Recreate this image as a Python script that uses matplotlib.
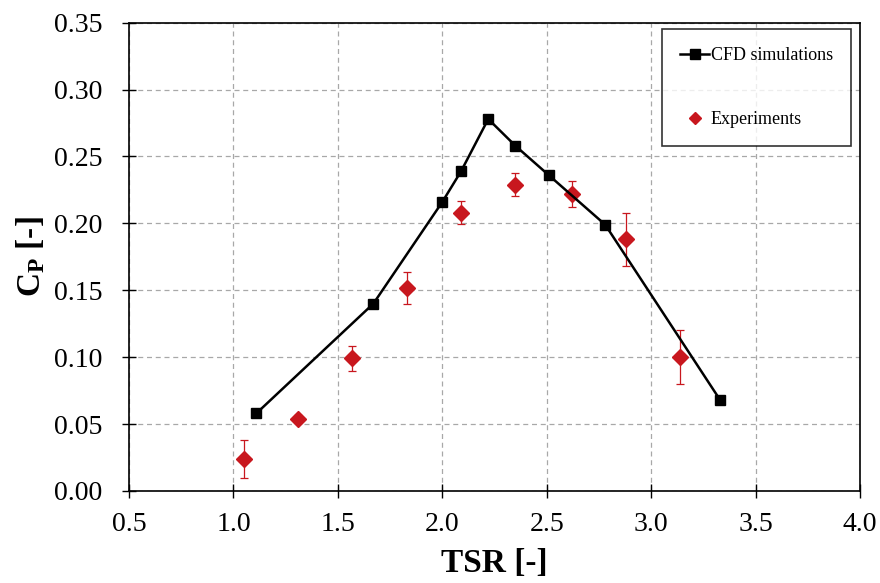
#!/usr/bin/env python3
"""Power coefficient vs tip speed ratio: CFD simulations against experiments."""
import matplotlib
matplotlib.use("Agg")
import matplotlib.pyplot as plt
from matplotlib.lines import Line2D

# CFD simulations
tsr_cfd = [1.11, 1.67, 2.00, 2.09, 2.22, 2.35, 2.51, 2.78, 3.33]
cp_cfd = [0.058, 0.140, 0.216, 0.239, 0.278, 0.258, 0.236, 0.199, 0.068]

# Experiments (mean +/- error)
tsr_exp = [1.05, 1.31, 1.57, 1.83, 2.09, 2.35, 2.62, 2.88, 3.14]
cp_exp = [0.024, 0.054, 0.099, 0.152, 0.208, 0.229, 0.222, 0.188, 0.100]
cp_err = [0.014, 0.003, 0.009, 0.012, 0.0085, 0.0087, 0.010, 0.020, 0.020]

xticks = [0.5, 1.0, 1.5, 2.0, 2.5, 3.0, 3.5, 4.0]
yticks = [0.00, 0.05, 0.10, 0.15, 0.20, 0.25, 0.30, 0.35]

RED = "#c8171e"

plt.rcParams["font.family"] = ["Liberation Serif", "DejaVu Serif"]
plt.rcParams["mathtext.fontset"] = "custom"
plt.rcParams["mathtext.rm"] = "Liberation Serif"
plt.rcParams["mathtext.bf"] = "Liberation Serif:bold"

fig = plt.figure(figsize=(8.8, 5.83), dpi=100)
ax = fig.add_axes([0.1466, 0.158, 0.8307, 0.803])

ax.errorbar(tsr_exp, cp_exp, yerr=cp_err, fmt="D", color=RED, ms=8,
            ecolor=RED, elinewidth=0.9, capsize=3, capthick=0.9, zorder=3)
ax.plot(tsr_cfd, cp_cfd, "-s", color="black", lw=1.8, ms=7.5, zorder=4)

ax.set_xlim(0.5, 4.0)
ax.set_ylim(0.0, 0.35)
ax.set_xticks(xticks)
ax.set_yticks(yticks)
ax.set_xticklabels([f"{v:.1f}" for v in xticks])
ax.set_yticklabels([f"{v:.2f}" for v in yticks])
ax.tick_params(direction="inout", length=10, width=1, labelsize=20)
ax.tick_params(axis="x", pad=10)
ax.tick_params(axis="y", pad=14)
ax.grid(True, ls=(0, (4, 3)), color="#a8a8a8", lw=0.9)
ax.set_axisbelow(True)
for sp in ax.spines.values():
    sp.set_linewidth(1.2)

ax.set_xlabel("TSR [-]", fontsize=24, fontweight="bold", labelpad=8)
ax.set_ylabel(r"$\mathbf{C_P}$ [-]", fontsize=24, fontweight="bold", labelpad=5)

handles = [
    Line2D([], [], color="black", marker="s", lw=1.8, ms=7.5),
    Line2D([], [], color=RED, marker="D", ls="none", ms=6),
]
leg = ax.legend(handles, ["CFD simulations", "Experiments"], loc="upper right",
                fontsize=13, frameon=True, fancybox=False, edgecolor="black",
                labelspacing=2.6, borderpad=1.0, handlelength=1.6,
                handletextpad=0.1, borderaxespad=0,
                bbox_to_anchor=(0.9877, 0.986))
leg.get_frame().set_linewidth(1.2)

fig.savefig("out.png", dpi=100)
